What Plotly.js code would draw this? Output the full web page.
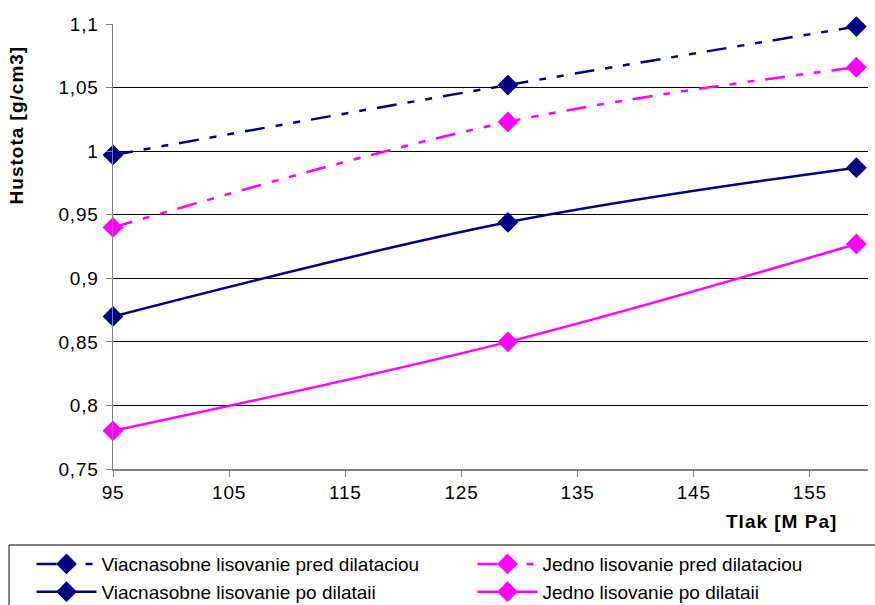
<!DOCTYPE html>
<html>
<head>
<meta charset="utf-8">
<script src="https://cdn.plot.ly/plotly-3.0.1.min.js"></script>
<style>
  html, body { margin: 0; padding: 0; background: #fff; }
  #chart { width: 875px; height: 605px; }
  .xtick text, .ytick text { letter-spacing: 0.8px; }
  .annotation-text { letter-spacing: 1px; }
</style>
</head>
<body>
<div id="chart"></div>
<script>
const pressure = [95, 129, 159];
const viacPred = [0.997, 1.052, 1.098];
const jednoPred = [0.940, 1.023, 1.066];
const viacPo = [0.870, 0.944, 0.987];
const jednoPo = [0.780, 0.850, 0.927];

const names = [
  'Viacnasobne lisovanie pred dilataciou',
  'Jedno lisovanie pred dilataciou',
  'Viacnasobne lisovanie po dilataii',
  'Jedno lisovanie po dilataii'
];
const xTickVals = [95, 105, 115, 125, 135, 145, 155];
const yTickVals = [0.75, 0.8, 0.85, 0.9, 0.95, 1, 1.05, 1.1];

const navy = '#000080';
const magenta = '#FF00FF';
const dashPat = '20px,11px,7px,11px,7px,11px';
const FONT = '"Liberation Sans", Arial, sans-serif';

function tr(y, name, color, dash, legendId, grp) {
  return {
    x: pressure, y: y, name: name, type: 'scatter', mode: 'lines+markers',
    legend: legendId, legendgroup: grp, cliponaxis: false,
    line: { color: color, width: 2.5, dash: dash, shape: 'spline', smoothing: 1 },
    marker: { symbol: 'diamond', size: 16, color: color }
  };
}

const data = [
  tr(viacPred, names[0], navy, dashPat, 'legend', 'a'),
  tr(jednoPred, names[1], magenta, dashPat, 'legend2', 'b'),
  tr(viacPo, names[2], navy, 'solid', 'legend', 'c'),
  tr(jednoPo, names[3], magenta, 'solid', 'legend2', 'd')
];

const legendBase = {
  orientation: 'v', xref: 'container', yref: 'container', yanchor: 'top', xanchor: 'left',
  borderwidth: 0, bgcolor: 'rgba(0,0,0,0)', itemwidth: 60, tracegroupgap: 8,
  font: { size: 19, family: FONT, color: '#000' }, traceorder: 'normal'
};

const layout = {
  width: 875, height: 605,
  margin: { l: 113, r: 7, t: 24, b: 136, autoexpand: false },
  paper_bgcolor: '#fff', plot_bgcolor: '#fff',
  separators: ', ',
  font: { family: FONT, size: 18, color: '#000' },
  showlegend: true,
  xaxis: {
    range: [95, 160], tickvals: xTickVals, ticks: 'outside', ticklen: 6, tickcolor: '#808080',
    showline: true, linecolor: '#808080', linewidth: 1.5, showgrid: false, zeroline: false,
    tickfont: { size: 19 }
  },
  yaxis: {
    range: [0.75, 1.1], tickvals: yTickVals, ticks: 'outside', ticklen: 6, tickcolor: '#808080',
    showline: true, linecolor: '#808080', linewidth: 1.5, showgrid: true, gridcolor: '#000', gridwidth: 1,
    zeroline: false, tickfont: { size: 19 }, ticklabelstandoff: 3
  },
  legend: Object.assign({}, legendBase, { x: 0.036, y: 0.099 }),
  legend2: Object.assign({}, legendBase, { x: 0.54, y: 0.099 }),
  shapes: [
    { type: 'rect', xref: 'paper', yref: 'paper', x0: -0.1377, x1: 1.02, y0: -0.1708, y1: -0.32,
      line: { color: '#000', width: 1 }, fillcolor: 'rgba(0,0,0,0)', layer: 'below' }
  ],
  annotations: [
    { text: '<b>Hustota [g/cm3]</b>', xref: 'paper', yref: 'paper', x: -0.128, y: 0.773,
      xanchor: 'center', yanchor: 'middle', textangle: -90, showarrow: false, font: { size: 19 } },
    { text: '<b>Tlak [M Pa]</b>', xref: 'paper', yref: 'paper', x: 0.962, y: 0, yshift: -52,
      xanchor: 'right', yanchor: 'middle', showarrow: false, font: { size: 19 } }
  ]
};

Plotly.newPlot('chart', data, layout, { displayModeBar: false, staticPlot: true });
</script>
</body>
</html>
